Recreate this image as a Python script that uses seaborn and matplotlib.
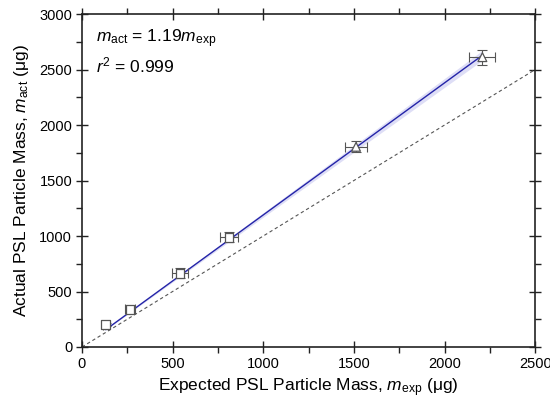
import numpy as np
import pandas as pd
import matplotlib
matplotlib.use("Agg")
import matplotlib.pyplot as plt
import seaborn as sns
from matplotlib.ticker import MultipleLocator

# Data
m_exp = [131, 265, 541, 811, 1512, 2209]
m_act = [201, 340, 664, 988, 1804, 2612]
x_err = [15, 30, 44, 52, 63, 72]
y_err = [15, 25, 45, 45, 51, 68]
marker_type = ["s", "s", "s", "s", "^", "^"]
slope = 1.19
slope_ci = 0.02
r2 = 0.999

sns.set_theme(style="ticks")
plt.rcParams["font.family"] = ["Liberation Sans", "DejaVu Sans"]
plt.rcParams["mathtext.fontset"] = "custom"
plt.rcParams["mathtext.rm"] = "Liberation Sans"
plt.rcParams["mathtext.it"] = "Liberation Sans:italic"
plt.rcParams["text.color"] = "black"
plt.rcParams["axes.labelcolor"] = "black"
plt.rcParams["xtick.labelcolor"] = "black"
plt.rcParams["ytick.labelcolor"] = "black"

df = pd.DataFrame({"m_exp": m_exp, "m_act": m_act, "kind": marker_type})

fig = plt.figure(figsize=(5.5, 4.03), dpi=100)
ax = fig.add_axes([0.149, 0.139, 0.824, 0.826])

# 1:1 line
one = pd.DataFrame({"x": [0, 2500], "y": [0, 2500]})
sns.lineplot(data=one, x="x", y="y", ax=ax, color="#555555", lw=0.8,
             linestyle=(0, (3, 2.5)), zorder=1)

# fit line and band
xf = np.linspace(min(m_exp), max(m_exp), 50)
fit = pd.DataFrame({"x": xf, "y": slope * xf})
ax.fill_between(xf, (slope - slope_ci) * xf, (slope + slope_ci) * xf,
                color="#c8c8f0", alpha=0.6, lw=0, zorder=2)
sns.lineplot(data=fit, x="x", y="y", ax=ax, color="#2424a8", lw=1.0, zorder=3)

# error bars
ax.errorbar(m_exp, m_act, xerr=x_err, yerr=y_err, fmt="none",
            ecolor="#555555", elinewidth=0.8, capsize=3.5, capthick=0.8, zorder=4)

sns.scatterplot(data=df, x="m_exp", y="m_act", style="kind",
                markers={"s": "s", "^": "^"}, ax=ax, s=40,
                facecolor="white", edgecolor="#555555", linewidth=0.9,
                legend=False, zorder=5)

ax.set_xlim(0, 2500)
ax.set_ylim(0, 3000)
ax.xaxis.set_major_locator(MultipleLocator(500))
ax.xaxis.set_minor_locator(MultipleLocator(250))
ax.yaxis.set_major_locator(MultipleLocator(500))
ax.yaxis.set_minor_locator(MultipleLocator(250))
ax.tick_params(which="major", direction="inout", length=8, width=1,
               top=True, right=True, labelsize=10.5, color="#222222", pad=3)
ax.tick_params(which="minor", direction="out", length=4, width=1,
               top=True, right=True, color="#222222")
for sp in ax.spines.values():
    sp.set_visible(True)
    sp.set_linewidth(1.2)
    sp.set_color("#222222")

ax.set_xlabel(r"Expected PSL Particle Mass, $m_{\mathrm{exp}}$ ($\mathrm{\mu}$g)",
              fontsize=12.5, labelpad=4)
ax.set_ylabel(r"Actual PSL Particle Mass, $m_{\mathrm{act}}$ ($\mathrm{\mu}$g)",
              fontsize=12.5, labelpad=6)

ax.text(0.03, 0.925, r"$m_{\mathrm{act}}$ = %.2f$m_{\mathrm{exp}}$" % slope,
        transform=ax.transAxes, fontsize=12.5, va="center")
ax.text(0.03, 0.845, r"$r^2$ = %.3f" % r2,
        transform=ax.transAxes, fontsize=12.5, va="center")

fig.savefig("out.png", dpi=100)
